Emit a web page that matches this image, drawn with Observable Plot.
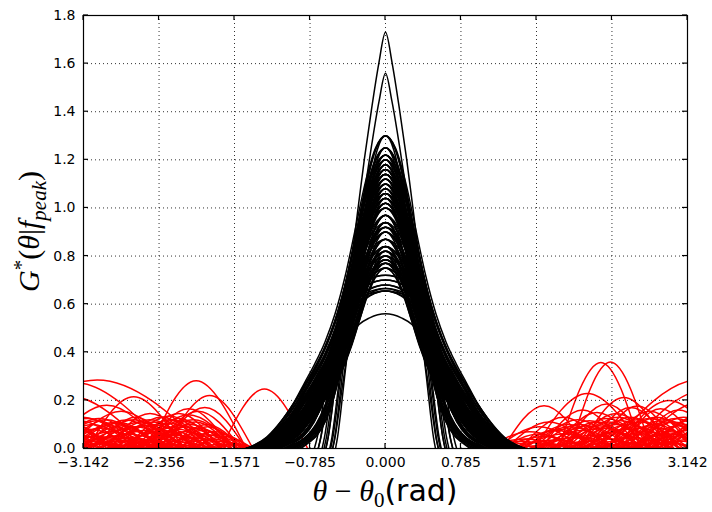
<!DOCTYPE html>
<html><head><meta charset="utf-8">
<script src="https://cdn.jsdelivr.net/npm/d3@7"></script>
<script src="https://cdn.jsdelivr.net/npm/@observablehq/plot@0.6"></script>
<style>body{margin:0;background:#fff;} #chart{width:712px;height:512px;}</style>
</head><body><div id="chart"></div>
<script>
// ---- tick values ----
const xTicks = [-3.142, -2.356, -1.571, -0.785, 0, 0.785, 1.571, 2.356, 3.142];
const yTicks = [0, 0.2, 0.4, 0.6, 0.8, 1.0, 1.2, 1.4, 1.6, 1.8];

// ---- main-lobe shape profiles (right half, x as fraction of null half-width, y as fraction of peak) ----
const profTX = [0, 0.051, 0.109, 0.161, 0.208, 0.255, 0.336, 0.474, 0.679, 0.839, 1];
const profTY = [1, 0.925, 0.809, 0.694, 0.578, 0.462, 0.347, 0.231, 0.116, 0.035, 0];
const profMX = [0, 0.1, 0.2, 0.3, 0.4, 0.5, 0.6, 0.7, 0.8, 0.9, 1];
const profMY = [1, 0.953, 0.824, 0.647, 0.461, 0.298, 0.175, 0.093, 0.045, 0.02, 0];
const profLX = [0, 0.074, 0.148, 0.222, 0.296, 0.37, 0.444, 0.519, 0.593, 0.667, 0.741, 0.852, 1];
const profLY = [1, 0.96, 0.85, 0.7, 0.55, 0.43, 0.34, 0.27, 0.21, 0.15, 0.1, 0.04, 0];
const profSX = [0, 0.3, 0.5, 0.62, 0.72, 0.82, 0.9, 0.96, 1];
const profSY = [1, 0.97, 0.92, 0.86, 0.7, 0.45, 0.22, 0.07, 0];

// ---- black main lobes ----
// tall narrow lobes
const tallPeaks = [1.73, 1.56];
const tallWidths = [1.37, 1.32];
// mid lobes: peak levels, each drawn with 4 lobes of different null half-widths (M, L, M, L shapes)
const midPeaks = [1.30, 1.25, 1.22, 1.20, 1.18, 1.16, 1.14, 1.12, 1.10, 1.08, 1.06, 1.04, 1.02, 1.00, 0.97, 0.94, 0.92, 0.90, 0.87, 0.84, 0.82, 0.80, 0.785, 0.77, 0.75];
const midWidths = [
  [0.88, 1.35, 1.05, 1.42], [0.92, 1.40, 1.15, 1.30], [0.97, 1.44, 1.20, 1.25], [0.90, 1.30, 1.10, 1.45],
  [1.06, 1.38, 0.95, 1.22], [1.14, 1.25, 1.00, 1.42], [0.99, 1.40, 1.22, 1.30], [1.10, 1.32, 0.93, 1.44],
  [1.03, 1.20, 1.25, 1.36], [1.17, 1.36, 0.98, 1.26], [0.97, 1.28, 1.30, 1.42], [1.10, 1.15, 1.22, 1.40],
  [1.03, 1.38, 1.28, 1.24], [1.14, 1.30, 1.32, 1.44], [0.99, 1.22, 1.25, 1.40], [1.06, 1.35, 1.36, 1.18],
  [1.21, 1.45, 1.40, 1.26], [1.14, 1.18, 1.32, 1.42], [1.21, 1.28, 1.45, 1.34], [1.28, 1.32, 1.40, 1.20],
  [1.23, 1.15, 1.36, 1.42], [1.38, 1.30, 1.45, 1.22], [1.32, 1.40, 1.26, 1.28], [1.45, 1.20, 1.30, 1.36],
  [1.39, 1.25, 1.44, 1.30]
];
const midShapes = ["M", "L", "M", "L"];
// low flat-topped lobes with steep walls
const lowPeaks = [0.72, 0.72, 0.70, 0.70, 0.68, 0.68, 0.665, 0.665, 0.655, 0.655, 0.655, 0.56];
const lowWidths = [0.70, 0.62, 0.62, 0.66, 0.58, 0.64, 0.55, 0.70, 0.52, 0.57, 0.74, 0.55];

// ---- red side lobes: [start null, peak position, end null, peak value] ----
const redLeft = [
  [-4.2, -3.0, -1.85, 0.285], [-3.9, -3.2, -2.25, 0.272], [-3.8, -3.25, -2.45, 0.215], [-3.1, -2.62, -2.1, 0.215],
  [-2.45, -1.97, -1.45, 0.282], [-2.3, -1.83, -1.38, 0.22], [-1.71, -1.26, -0.81, 0.247], [-2.35, -1.88, -1.45, 0.17],
  [-2.4, -1.95, -1.5, 0.155], [-2.5, -2.05, -1.55, 0.14], [-2.55, -2.15, -1.7, 0.125], [-3.5, -2.9, -2.3, 0.18],
  [-3.6, -3.15, -2.55, 0.13], [-2.5, -2.05, -1.6, 0.165], [-2.6, -2.15, -1.72, 0.145], [-2.7, -2.25, -1.8, 0.135],
  [-2.45, -2.0, -1.55, 0.12], [-2.9, -2.45, -2.0, 0.145], [-3.3, -2.75, -2.2, 0.155],
  [-3.9, -3.4, -2.9, 0.12], [-3.7, -3.3, -2.85, 0.11], [-3.6, -3.1, -2.6, 0.125], [-3.5, -3.05, -2.6, 0.1],
  [-3.45, -3.0, -2.55, 0.115], [-3.4, -2.95, -2.5, 0.085], [-3.35, -2.9, -2.45, 0.12], [-3.3, -2.85, -2.4, 0.07],
  [-3.25, -2.8, -2.35, 0.105], [-3.2, -2.75, -2.3, 0.095], [-3.15, -2.7, -2.25, 0.118], [-3.12, -2.68, -2.2, 0.06],
  [-3.1, -2.6, -2.15, 0.09], [-3.05, -2.55, -2.1, 0.11], [-3.0, -2.5, -2.05, 0.075], [-2.95, -2.45, -2.0, 0.12],
  [-2.9, -2.42, -1.95, 0.1], [-2.85, -2.38, -1.92, 0.065], [-2.8, -2.33, -1.88, 0.13], [-2.75, -2.3, -1.85, 0.085],
  [-2.7, -2.25, -1.8, 0.105], [-2.65, -2.2, -1.78, 0.055], [-2.6, -2.15, -1.72, 0.095], [-2.55, -2.12, -1.7, 0.115],
  [-2.5, -2.08, -1.66, 0.07], [-2.45, -2.03, -1.62, 0.1], [-2.4, -2.0, -1.6, 0.045], [-2.35, -1.95, -1.56, 0.085],
  [-2.3, -1.9, -1.52, 0.06], [-2.25, -1.86, -1.5, 0.1], [-2.2, -1.82, -1.46, 0.04], [-2.15, -1.78, -1.44, 0.07],
  [-2.1, -1.74, -1.42, 0.03], [-2.0, -1.68, -1.38, 0.05], [-1.95, -1.63, -1.36, 0.025], [-1.9, -1.6, -1.34, 0.018],
  [-1.85, -1.55, -1.3, 0.012], [-3.8, -3.3, -2.8, 0.09], [-3.6, -3.2, -2.75, 0.075], [-3.5, -3.0, -2.5, 0.05],
  [-3.4, -2.9, -2.35, 0.04], [-3.3, -2.75, -2.25, 0.03], [-3.1, -2.65, -2.2, 0.045], [-3.0, -2.55, -2.1, 0.035],
  [-2.9, -2.45, -2.0, 0.025], [-3.7, -3.25, -2.8, 0.06], [-3.4, -2.95, -2.5, 0.02], [-2.8, -2.35, -1.9, 0.04],
  [-2.6, -2.2, -1.8, 0.03], [-3.9, -3.45, -3.0, 0.13], [-3.75, -3.35, -2.95, 0.05], [-3.55, -3.12, -2.7, 0.03],
  [-3.25, -2.82, -2.38, 0.05], [-2.7, -2.28, -1.86, 0.02],
  [-3.85, -3.35, -2.85, 0.1], [-3.65, -3.18, -2.7, 0.115], [-3.55, -3.08, -2.62, 0.08], [-3.45, -2.98, -2.52, 0.125],
  [-3.35, -2.88, -2.42, 0.095], [-3.28, -2.8, -2.32, 0.11], [-3.18, -2.72, -2.26, 0.08], [-3.08, -2.62, -2.16, 0.12],
  [-2.98, -2.52, -2.06, 0.095], [-2.88, -2.42, -1.98, 0.11], [-2.78, -2.33, -1.9, 0.075], [-2.68, -2.24, -1.82, 0.12],
  [-2.58, -2.16, -1.76, 0.08], [-2.48, -2.06, -1.66, 0.09], [-2.38, -1.98, -1.6, 0.11], [-2.28, -1.9, -1.54, 0.075],
  [-2.18, -1.8, -1.46, 0.055], [-3.95, -3.5, -3.05, 0.105], [-3.7, -3.22, -2.74, 0.04], [-3.2, -2.76, -2.3, 0.03],
  [-2.9, -2.5, -2.1, 0.015], [-2.6, -2.22, -1.84, 0.06], [-2.2, -1.85, -1.5, 0.09], [-2.05, -1.72, -1.4, 0.06],
  [-3.0, -2.6, -2.2, 0.13]
];
const redRight = [
  [1.80, 2.24, 2.66, 0.358], [1.92, 2.34, 2.76, 0.36], [1.55, 2.10, 2.68, 0.229], [1.22, 1.65, 2.10, 0.178],
  [2.02, 2.48, 2.95, 0.212], [2.30, 3.25, 4.10, 0.285], [2.50, 3.30, 4.0, 0.24], [2.60, 3.30, 4.0, 0.195],
  [2.20, 2.62, 3.05, 0.177], [2.45, 2.86, 3.3, 0.165], [1.62, 2.05, 2.5, 0.16], [1.75, 2.2, 2.65, 0.15],
  [1.4, 1.85, 2.3, 0.13], [2.7, 3.35, 4.0, 0.145], [1.85, 2.3, 2.75, 0.185], [2.1, 2.55, 3.0, 0.17],
  [2.3, 2.75, 3.2, 0.155], [1.95, 2.4, 2.85, 0.145], [2.6, 3.05, 3.5, 0.16], [2.4, 2.95, 3.5, 0.2],
  [1.0, 1.45, 1.9, 0.04], [1.05, 1.5, 1.95, 0.07], [1.1, 1.55, 2.0, 0.025], [1.15, 1.6, 2.05, 0.09],
  [1.2, 1.65, 2.1, 0.05], [1.25, 1.7, 2.15, 0.11], [1.3, 1.75, 2.2, 0.035], [1.35, 1.8, 2.25, 0.08],
  [1.4, 1.85, 2.3, 0.06], [1.45, 1.9, 2.35, 0.1], [1.5, 1.95, 2.4, 0.045], [1.55, 2.0, 2.45, 0.12],
  [1.6, 2.05, 2.5, 0.075], [1.65, 2.1, 2.55, 0.095], [1.7, 2.15, 2.6, 0.055], [1.75, 2.2, 2.65, 0.11],
  [1.8, 2.25, 2.7, 0.085], [1.85, 2.3, 2.75, 0.125], [1.9, 2.35, 2.8, 0.065], [1.95, 2.4, 2.85, 0.1],
  [2.0, 2.45, 2.9, 0.115], [2.05, 2.5, 2.95, 0.08], [2.1, 2.55, 3.0, 0.13], [2.15, 2.6, 3.05, 0.09],
  [2.2, 2.65, 3.1, 0.11], [2.25, 2.7, 3.15, 0.07], [2.3, 2.75, 3.2, 0.125], [2.35, 2.8, 3.25, 0.1],
  [2.4, 2.85, 3.3, 0.085], [2.45, 2.9, 3.35, 0.12], [2.5, 2.95, 3.4, 0.06], [2.55, 3.0, 3.45, 0.11],
  [2.6, 3.05, 3.5, 0.095], [2.65, 3.1, 3.55, 0.13], [2.7, 3.15, 3.6, 0.075], [2.75, 3.2, 3.65, 0.12],
  [2.8, 3.25, 3.7, 0.1], [2.85, 3.3, 3.75, 0.115], [2.9, 3.4, 3.9, 0.13], [1.9, 2.3, 2.7, 0.04],
  [2.0, 2.4, 2.8, 0.03], [2.2, 2.6, 3.0, 0.045], [2.4, 2.8, 3.2, 0.035], [2.6, 3.0, 3.4, 0.05],
  [2.8, 3.2, 3.6, 0.04], [2.1, 2.5, 2.9, 0.02], [2.5, 2.9, 3.3, 0.025], [2.7, 3.1, 3.5, 0.03],
  [1.7, 2.1, 2.5, 0.03], [1.5, 1.9, 2.3, 0.02], [1.3, 1.7, 2.1, 0.015], [1.1, 1.4, 1.7, 0.01],
  [1.45, 1.92, 2.4, 0.09], [1.58, 2.02, 2.46, 0.1], [1.68, 2.12, 2.56, 0.115], [1.78, 2.22, 2.66, 0.095],
  [1.88, 2.32, 2.76, 0.11], [1.98, 2.42, 2.86, 0.13], [2.08, 2.52, 2.96, 0.1], [2.18, 2.62, 3.06, 0.12],
  [2.28, 2.72, 3.16, 0.09], [2.38, 2.82, 3.26, 0.13], [2.48, 2.92, 3.36, 0.11], [2.58, 3.02, 3.46, 0.125],
  [2.68, 3.12, 3.56, 0.1], [2.78, 3.22, 3.66, 0.13], [2.88, 3.35, 3.8, 0.12], [2.95, 3.45, 3.95, 0.125],
  [1.2, 1.6, 2.0, 0.06], [1.35, 1.78, 2.2, 0.075], [2.25, 2.66, 3.08, 0.06], [2.55, 2.96, 3.38, 0.07],
  [2.75, 3.18, 3.6, 0.06], [1.6, 2.0, 2.4, 0.05], [2.0, 2.38, 2.76, 0.07], [2.9, 3.3, 3.7, 0.08],
  [1.05, 1.42, 1.8, 0.03]
];

// ---- build tables ----
const profiles = {T: [profTX, profTY], M: [profMX, profMY], L: [profLX, profLY], S: [profSX, profSY]};
const lobes = [];
tallPeaks.forEach((p, i) => lobes.push([p, tallWidths[i], "T"]));
midPeaks.forEach((p, i) => midWidths[i].forEach((w, k) => lobes.push([p, w, midShapes[k]])));
lowPeaks.forEach((p, i) => lobes.push([p, lowWidths[i], "S"]));
const blackRows = [];
lobes.forEach(([p, w, s], i) => {
  const [px, py] = profiles[s];
  for (let j = px.length - 1; j > 0; j--) blackRows.push({id: i, x: -px[j] * w, y: py[j] * p});
  for (let j = 0; j < px.length; j++) blackRows.push({id: i, x: px[j] * w, y: py[j] * p});
});
const redRows = [];
redLeft.concat(redRight).forEach(([a, b, c, h], i) => {
  redRows.push({id: i, x: a, y: 0}, {id: i, x: b, y: h}, {id: i, x: c, y: 0});
});

const fmtX = d => d.toFixed(3).replace("-", "\u2212");
const fmtY = d => d.toFixed(1);
const gridStyle = {stroke: "#000", strokeOpacity: 0.8, strokeWidth: 1, strokeDasharray: "1,3"};

const chart = Plot.plot({
  width: 712, height: 512,
  marginLeft: 83, marginRight: 25, marginTop: 15, marginBottom: 64,
  style: {fontFamily: "'DejaVu Sans', sans-serif", fontSize: "14px", background: "#fff", color: "#000", overflow: "visible"},
  x: {domain: [-3.142, 3.142]},
  y: {domain: [0, 1.8]},
  marks: [
    Plot.line(redRows, {x: "x", y: "y", z: "id", stroke: "#ff0000", strokeWidth: 1.5, curve: "natural", clip: true}),
    Plot.line(blackRows, {x: "x", y: "y", z: "id", stroke: "#000", strokeWidth: 1.5, curve: "monotone-x", clip: true}),
    Plot.gridX({ticks: xTicks, ...gridStyle}),
    Plot.gridY({ticks: yTicks, ...gridStyle}),
    Plot.axisX({ticks: xTicks, tickSize: 0, tickPadding: 9, tickFormat: fmtX, label: null, fill: "#000"}),
    Plot.axisY({ticks: yTicks, tickSize: 0, tickPadding: 8, tickFormat: fmtY, label: null, fill: "#000"}),
    Plot.frame({stroke: "#000", strokeWidth: 1.2})
  ]
});
document.getElementById("chart").appendChild(chart);

// inward tick marks on all four sides, placed through the plot's scales
const sx = chart.scale("x"), sy = chart.scale("y");
const svg = d3.select(chart);
const g = svg.append("g").attr("stroke", "#000").attr("stroke-width", 1.2);
const L = 5;
const x0 = sx.apply(-3.142), x1 = sx.apply(3.142), y0 = sy.apply(0), y1 = sy.apply(1.8);
xTicks.forEach(t => {
  const px = sx.apply(t);
  g.append("line").attr("x1", px).attr("x2", px).attr("y1", y0).attr("y2", y0 - L);
  g.append("line").attr("x1", px).attr("x2", px).attr("y1", y1).attr("y2", y1 + L);
});
yTicks.forEach(t => {
  const py = sy.apply(t);
  g.append("line").attr("x1", x0).attr("x2", x0 + L).attr("y1", py).attr("y2", py);
  g.append("line").attr("x1", x1).attr("x2", x1 - L).attr("y1", py).attr("y2", py);
});

// axis titles
const serif = "'Liberation Serif', 'DejaVu Serif', serif";
const sans = "'DejaVu Sans', sans-serif";
const xt = svg.append("text").attr("x", (x0 + x1) / 2).attr("y", 501).attr("text-anchor", "middle")
  .attr("fill", "#000").style("font-size", "30px").style("font-family", serif);
xt.append("tspan").style("font-style", "italic").text("\u03b8");
xt.append("tspan").text(" \u2212 ");
xt.append("tspan").style("font-style", "italic").text("\u03b8");
xt.append("tspan").attr("dy", 6).style("font-size", "21px").text("0");
xt.append("tspan").attr("dy", -6).style("font-family", sans).text("(rad)");

const yc = (y0 + y1) / 2;
const yt = svg.append("text").attr("transform", `translate(39,${yc}) rotate(-90)`).attr("text-anchor", "middle")
  .attr("fill", "#000").style("font-size", "30px").style("font-family", serif);
yt.append("tspan").style("font-style", "italic").text("G");
yt.append("tspan").attr("dy", -11).style("font-size", "21px").text("*");
yt.append("tspan").attr("dy", 11).text("(");
yt.append("tspan").style("font-style", "italic").text("\u03b8");
yt.append("tspan").text("|");
yt.append("tspan").style("font-style", "italic").text("f");
yt.append("tspan").attr("dy", 7).style("font-size", "21px").style("font-style", "italic").text("peak");
yt.append("tspan").attr("dy", -7).text(")");
</script>
</body></html>
